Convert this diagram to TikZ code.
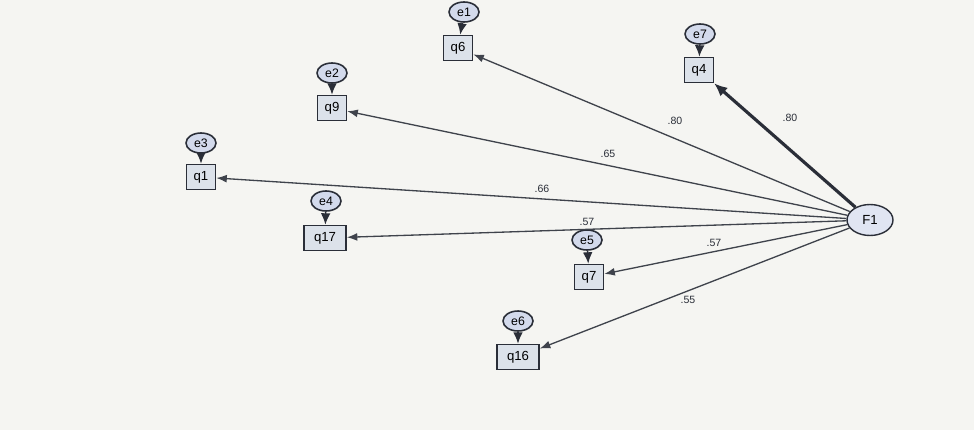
\documentclass[tikz,border=0pt]{standalone}
\usepackage{fontspec}
\setmainfont{Liberation Sans}
\usetikzlibrary{arrows.meta,shapes.geometric}
\definecolor{bg}{HTML}{F5F5F2}
\definecolor{boxfill}{HTML}{DCE2EA}
\definecolor{ellfill}{HTML}{D3DAEC}
\definecolor{ink}{HTML}{2A2E38}
\tikzset{
  obs/.style={draw=ink, line width=0.9pt, fill=boxfill, rectangle, minimum width=0.58cm, minimum height=0.5cm, inner sep=1pt, font=\fontsize{7.5}{8}\selectfont},
  wobs/.style={obs, minimum width=0.84cm},
  err/.style={draw=ink, line width=0.9pt, fill=ellfill, ellipse, minimum width=0.6cm, minimum height=0.4cm, inner sep=0pt, font=\fontsize{7}{8}\selectfont},
  lat/.style={draw=ink, line width=0.8pt, fill=ellfill!70!white, ellipse, minimum width=0.92cm, minimum height=0.62cm, inner sep=0pt, font=\fontsize{7.5}{9}\selectfont},
  load/.style={draw=ink!90, line width=0.75pt, -{Latex[length=6pt,width=4.5pt]}},
  eload/.style={draw=ink, line width=0.9pt, -{Latex[length=6.5pt,width=5.5pt]}},
  lbl/.style={font=\fontsize{6}{7}\selectfont, text=ink, inner sep=0pt}
}
\begin{document}
\begin{tikzpicture}[x=0.02cm,y=-0.02cm]
\fill[bg] (0,0) rectangle (974,430);
\useasboundingbox (0,0) rectangle (974,430);
% observed
\node[obs] (q6) at (458,48) {q6};
\node[obs] (q4) at (699,70) {q4};
\node[obs] (q9) at (332,108) {q9};
\node[obs] (q1) at (201,177) {q1};
\node[wobs] (q17) at (325,238) {q17};
\node[obs] (q7) at (589,277) {q7};
\node[wobs] (q16) at (518,357) {q16};
% errors
\node[err] (e1) at (464,12) {e1};
\node[err] (e7) at (700,34) {e7};
\node[err] (e2) at (332,73) {e2};
\node[err] (e3) at (201,143) {e3};
\node[err] (e4) at (326,201) {e4};
\node[err] (e5) at (587,240) {e5};
\node[err] (e6) at (518,321) {e6};
% latent
\node[lat] (F1) at (870,220) {F1};
% error arrows
\foreach \e/\q in {e1/q6,e7/q4,e2/q9,e3/q1,e4/q17,e5/q7,e6/q16}
  \draw[eload] (\e) -- (\q);
% loadings
\draw[load] (F1) -- (q6);
\draw[load] (F1) -- (q9);
\draw[load] (F1) -- (q1);
\draw[load] (F1) -- (q17);
\draw[load] (F1) -- (q7);
\draw[load] (F1) -- (q16);
\draw[draw=ink, line width=1.8pt, -{Latex[length=7.5pt,width=6.5pt]}] (F1) -- (q4);
% labels
\node[lbl] (l6) at (675,121) {.80};
\node[lbl] (l9) at (608,154) {.65};
\node[lbl] (l1) at (542,189) {.66};
\node[lbl] (l17) at (587,222) {.57};
\node[lbl] (l7) at (714,243) {.57};
\node[lbl] (l16) at (688,300) {.55};
\node[lbl] (l4) at (790,118) {.80};
\end{tikzpicture}
\end{document}
